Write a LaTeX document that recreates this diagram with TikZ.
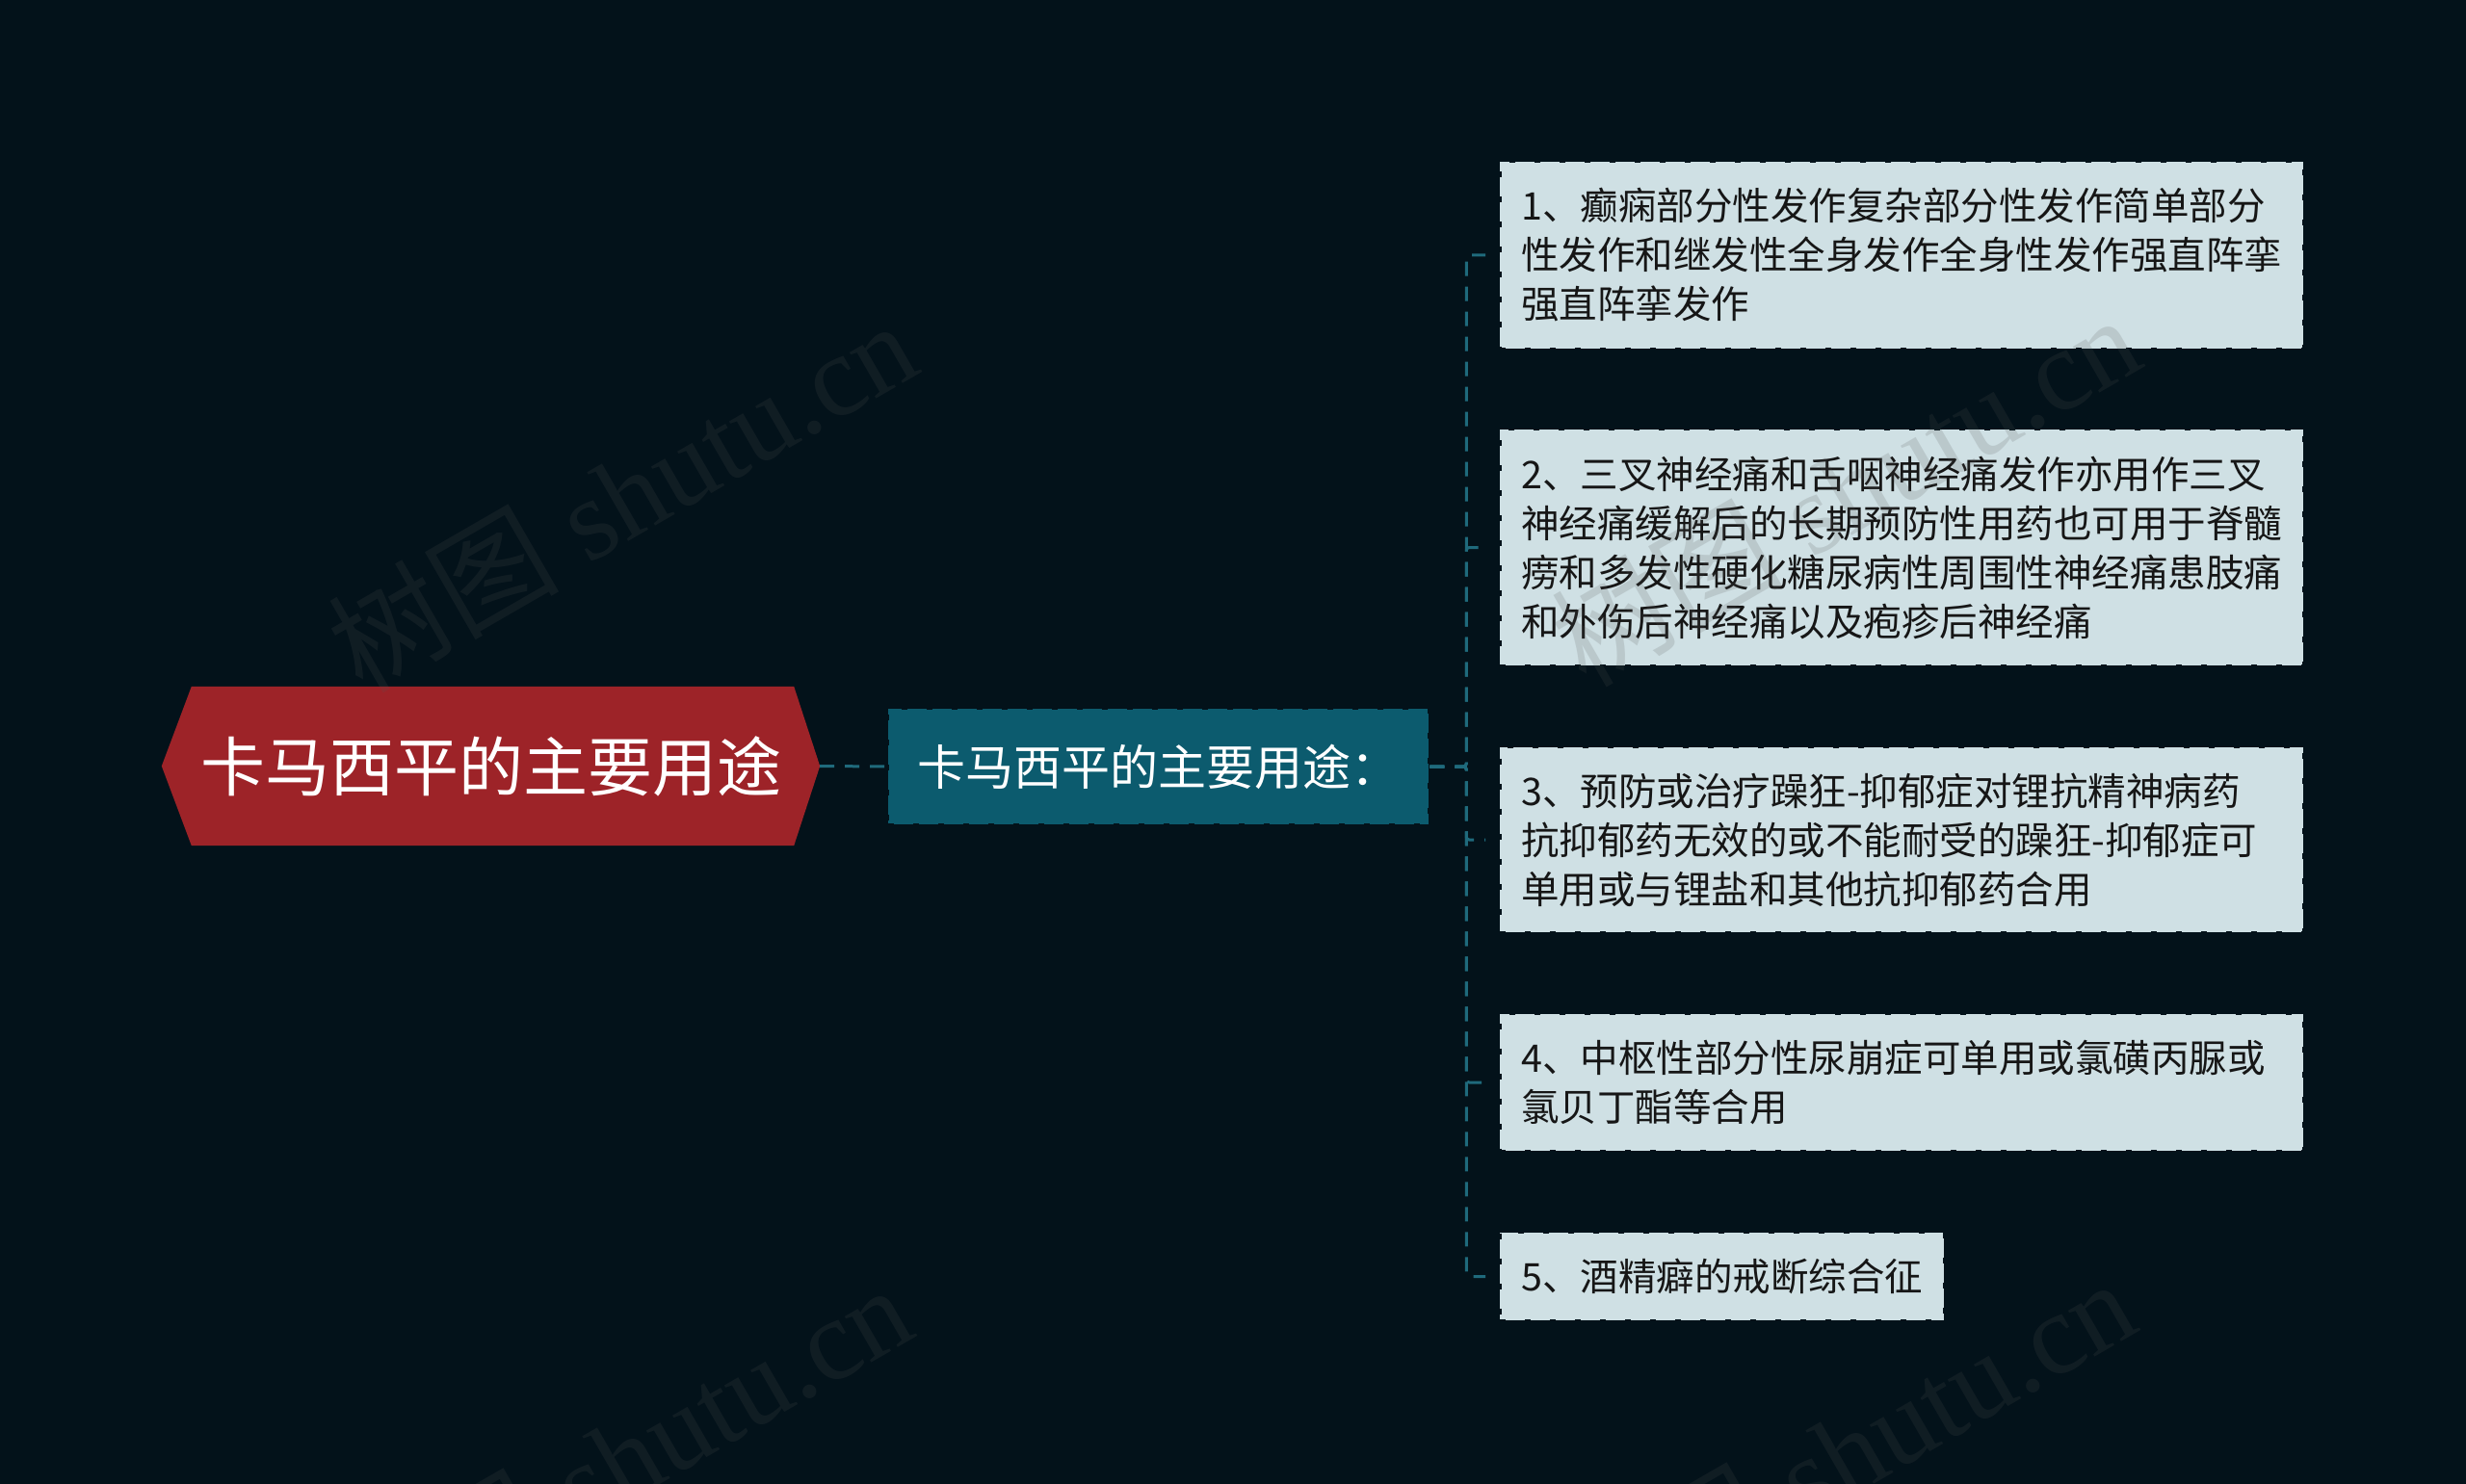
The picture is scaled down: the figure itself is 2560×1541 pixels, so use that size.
\documentclass[tikz,border=0pt]{standalone}
\usepackage{fontspec}
\setmainfont{Liberation Sans}
\newfontfamily\cjk{Noto Sans CJK SC}
\newfontfamily\wmserif{Liberation Serif}
\usetikzlibrary{backgrounds}
\pgfdeclarelayer{canvasbg}
\pgfdeclarelayer{background}
\pgfsetlayers{canvasbg,background,main}
\definecolor{bgc}{HTML}{03121A}
\definecolor{rootc}{HTML}{9D2328}
\definecolor{subc}{HTML}{0C5B6E}
\definecolor{leafc}{HTML}{CFE0E4}
\definecolor{leaftext}{HTML}{161616}
\definecolor{connc}{HTML}{1F6A7C}
\definecolor{wmgray}{HTML}{555555}
\begin{document}
\begin{tikzpicture}[x=1pt,y=-1pt,
  conn/.style={draw=connc, line width=3pt, dash pattern=on 15pt off 11pt, rounded corners=3pt},
  leaf/.style={fill=leafc, draw=bgc, line width=2.5pt, dash pattern=on 6pt off 20pt,
    anchor=west, align=left, text=leaftext, inner xsep=22pt, inner ysep=0pt,
    font=\cjk\fontsize{39.5}{51}\selectfont},
  wide/.style={text width=790pt},
  subbox/.style={fill=subc, draw=bgc, line width=2.5pt, dash pattern=on 6pt off 20pt,
    text=white, inner sep=0pt, minimum width=561pt, minimum height=120pt,
    font=\cjk\fontsize{50}{60}\selectfont},
  roottext/.style={text=white, inner sep=0pt, minimum width=683pt, minimum height=165pt,
    font=\cjk\fontsize{67}{80}\selectfont},
  wm/.style={text=wmgray, text opacity=0.17, rotate=30, inner sep=0pt,
    font=\wmserif\fontsize{120}{120}\selectfont}
]
\begin{pgfonlayer}{canvasbg}
\fill[bgc] (0,0) rectangle (2560,1541);
\end{pgfonlayer}
\useasboundingbox (0,0) rectangle (2560,1541);

% root
\node[roottext] (root) at (509.5,795.5) {卡马西平的主要用途};
\begin{pgfonlayer}{background}
\fill[rootc] ([xshift=31pt]root.north west) -- ([xshift=-27pt]root.north east) -- (root.east)
  -- ([xshift=-27pt]root.south east) -- ([xshift=31pt]root.south west) -- (root.west) -- cycle;
\end{pgfonlayer}

% sub
\node[subbox] (sub) at (1202.5,796) {卡马西平的主要用途：};

% leaves
\node[leaf, wide, minimum height=194pt] (c1) at (1556,265)
  {1、癫痫部分性发作复杂部分性发作简单部分\\性发作和继发性全身发作全身性发作强直阵挛\\强直阵挛发作};
\node[leaf, wide, minimum height=245pt] (c2) at (1556,568.5)
  {2、三叉神经痛和舌咽神经痛发作亦用作三叉\\神经痛缓解后的长期预防性用药也可用于脊髓\\痨和多发性硬化糖尿病性周围性神经痛患肢痛\\和外伤后神经痛以及疱疹后神经痛};
\node[leaf, wide, minimum height=192pt] (c3) at (1556,872)
  {3、预防或治疗躁狂-抑郁症对锂抗精神病药\\抗抑郁药无效的或不能耐受的躁狂-抑郁症可\\单用或与锂盐和其他抗抑郁药合用};
\node[leaf, wide, minimum height=142pt] (c4) at (1556,1124)
  {4、中枢性部分性尿崩症可单用或氯磺丙脲或\\氯贝丁酯等合用};
\node[leaf, minimum height=91pt] (c5) at (1556,1325.5)
  {5、酒精癖的戒断综合征};

% connectors
\draw[conn] (root.east) -- (sub.west);
\foreach \c in {c1,c2,c3,c4,c5}{
  \draw[conn] (sub.east) -- ++(38,0) |- ([xshift=-14pt]\c.west);
}

% watermarks
\node[wm] (wm1) at (645,514) {{\cjk 树图} shutu.cn};
\node[wm] (wm2) at (1915,508) {{\cjk 树图} shutu.cn};
\node[wm] (wm3) at (640,1515) {{\cjk 树图} shutu.cn};
\node[wm] (wm4) at (1910,1509) {{\cjk 树图} shutu.cn};
\end{tikzpicture}
\end{document}
